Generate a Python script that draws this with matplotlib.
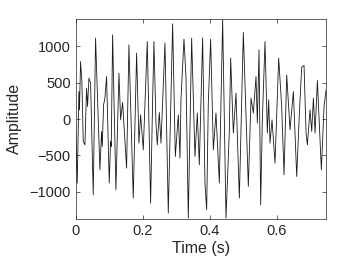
import numpy as np
import matplotlib
matplotlib.use("Agg")
import matplotlib.pyplot as plt

# pontos (tempo em s, amplitude)
t = [0.0, 0.0049, 0.0099, 0.0116, 0.0148, 0.0188, 0.0228, 0.0278, 0.0327, 0.0357,
     0.0397, 0.0447, 0.0526, 0.0596, 0.0725, 0.0775, 0.0795, 0.0835, 0.0875, 0.0924,
     0.1004, 0.1044, 0.1064, 0.1104, 0.1203, 0.1293, 0.1343, 0.1402, 0.1521, 0.1591,
     0.1720, 0.1820, 0.1890, 0.1939, 0.2019, 0.2138, 0.2238, 0.2298, 0.2337, 0.2397,
     0.2437, 0.2497, 0.2547, 0.2666, 0.2765, 0.2895, 0.2975, 0.3064, 0.3114, 0.3143,
     0.3233, 0.3293, 0.3362, 0.3462, 0.3561, 0.3631, 0.3691, 0.3790, 0.3860, 0.3910,
     0.3959, 0.4029, 0.4109, 0.4188, 0.4288, 0.4387, 0.4487, 0.4586, 0.4626, 0.4706,
     0.4785, 0.4885, 0.5004, 0.5153, 0.5233, 0.5302, 0.5382, 0.5422, 0.5472, 0.5521,
     0.5571, 0.5651, 0.5720, 0.5760, 0.5800, 0.5860, 0.5949, 0.6059, 0.6148, 0.6218,
     0.6298, 0.6397, 0.6497, 0.6596, 0.6676, 0.6745, 0.6815, 0.6875, 0.6915, 0.6994,
     0.7044, 0.7094, 0.7144, 0.7213, 0.7332, 0.7412, 0.7472]
amp = [-100, -881, 380, 128, 793, 518, -308, -354, 427, 174,
       564, 496, -1042, 1115, -698, -170, -376, 197, 289, 587,
       -881, -308, -376, 1161, -973, 633, -10, 229, -675, 1023,
       -1088, 909, -331, 59, -423, 1069, -1157, 266, 1069, -55,
       -354, 91, -331, 1046, -1294, 1312, -515, 59, -537, 266,
       1101, 587, -1363, 1115, -515, 83, -629, 1119, -881, -1249,
       220, 1101, -423, 83, -881, 1367, -1363, -170, 840, -193,
       358, -1088, 1193, -927, 289, 83, 587, -55, 954, -1180,
       -10, 1069, -193, 266, -331, -10, -606, 840, 174, -767,
       610, -147, 380, -790, 83, 716, 739, -193, -354, 128,
       -170, 289, -193, 532, -698, 174, 404]

plt.rcParams['font.family'] = ['Liberation Sans', 'DejaVu Sans']
cinza = '#262626'

fig = plt.figure(figsize=(3.6, 2.7), dpi=100)
ax = fig.add_axes([0.210, 0.189, 0.696, 0.741])
ax.plot(t, amp, color='#1a1a1a', linewidth=0.6)

ax.set_xlim(0, 0.7475)
ax.set_ylim(-1375, 1380)
ax.set_xticks([0, 0.2, 0.4, 0.6])
ax.set_xticklabels(['0', '0.2', '0.4', '0.6'])
ax.set_yticks([-1000, -500, 0, 500, 1000])
ax.set_xlabel("Time (s)", fontsize=11.5, color=cinza, labelpad=2)
ax.set_ylabel("Amplitude", fontsize=11.5, color=cinza, labelpad=5)
ax.tick_params(direction='in', top=True, right=True, labelsize=10.5,
               colors=cinza, length=3, width=0.5)
for s in ax.spines.values():
    s.set_color(cinza)
    s.set_linewidth(0.5)

fig.savefig("out.png", dpi=100)
